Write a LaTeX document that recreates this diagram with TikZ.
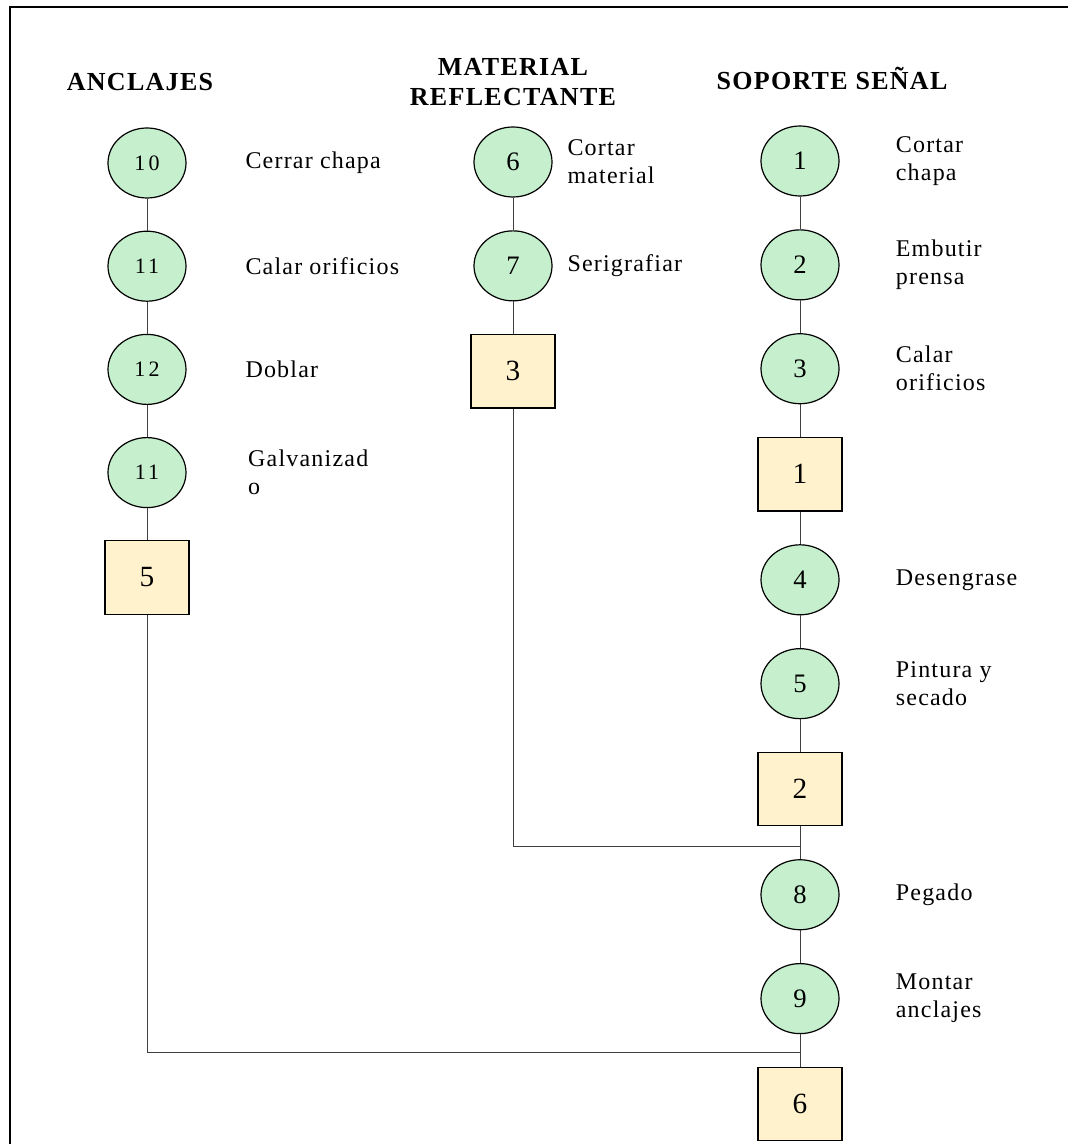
\documentclass[tikz,border=0pt]{standalone}
\usepackage{fontspec}
\setmainfont{Liberation Serif}
\newfontfamily\spacedfont[LetterSpace=5]{Liberation Serif}
\newfontfamily\widefont[LetterSpace=15]{Liberation Serif}
\usetikzlibrary{positioning,shapes.geometric,calc}
\definecolor{opgreen}{RGB}{198,239,206}
\definecolor{stockyellow}{RGB}{255,242,204}

\begin{document}
\begin{tikzpicture}[x=0.75pt, y=-0.75pt,
  op/.style={ellipse, draw=black, line width=0.9pt, fill=opgreen, inner sep=0pt,
             minimum width=58.5pt, minimum height=52.5pt, font=\fontsize{20}{24}\selectfont},
  opsmall/.style={op, font=\widefont\fontsize{16.5}{19}\selectfont},
  store/.style={rectangle, draw=black, line width=0.9pt, fill=stockyellow, inner sep=0pt,
                minimum width=63pt, minimum height=55pt, font=\fontsize{22}{26}\selectfont},
  lbl/.style={anchor=west, align=left, inner sep=0pt, font=\spacedfont\fontsize{18}{21}\selectfont},
  head/.style={align=center, inner sep=0pt, font=\spacedfont\bfseries\fontsize{19.5}{22.5}\selectfont},
  link/.style={draw=black!75, line width=0.75pt}]
\useasboundingbox (0,0) rectangle (1068,1144);
\draw[line width=1.5pt] (10,1144) -- (10,7) -- (1068,7);
% column heads
\node[head] (hanc) at (140,82) {ANCLAJES};
\node[head] (hmat) at (513,82) {MATERIAL\\REFLECTANTE};
\node[head] (hsop) at (832,78) {SOPORTE SEÑAL};
% anclajes
\node[opsmall] (a10) at (147,163) {10};
\node[opsmall, below=24pt of a10] (a11) {11};
\node[opsmall, below=24pt of a11] (a12) {12};
\node[opsmall, below=24pt of a12] (a11b) {11};
\node[store, below=24pt of a11b] (a5) {5};
\node[lbl, right=44pt of a10] (la10) {Cerrar chapa};
\node[lbl, right=44pt of a11] (la11) {Calar orificios};
\node[lbl, right=44pt of a12] (la12) {Doblar};
\node[lbl, right=46pt of a11b] (la11b) {Galvanizad\\o};
% material reflectante
\node[op] (m6) at (513,162) {6};
\node[op, below=24.5pt of m6] (m7) {7};
\node[store, below=24.5pt of m7] (m3) {3};
\node[lbl, right=11pt of m6] (lm6) {Cortar\\material};
\node[lbl, right=11pt of m7] (lm7) {Serigrafiar};
% soporte senal
\node[op] (s1) at (800,161) {1};
\node[op, below=24.5pt of s1] (s2) {2};
\node[op, below=24.5pt of s2] (s3) {3};
\node[store, below=24.5pt of s3] (s1b) {1};
\node[op, below=24.5pt of s1b] (s4) {4};
\node[op, below=24.5pt of s4] (s5) {5};
\node[store, below=24.5pt of s5] (s2b) {2};
\node[op, below=24.5pt of s2b] (s8) {8};
\node[op, below=24.5pt of s8] (s9) {9};
\node[store, below=24.5pt of s9] (s6) {6};
\node[lbl, right=42pt of s1] (ls1) {Cortar\\chapa};
\node[lbl, right=42pt of s2] (ls2) {Embutir\\prensa};
\node[lbl, right=42pt of s3] (ls3) {Calar\\orificios};
\node[lbl, right=42pt of s4] (ls4) {Desengrase};
\node[lbl, right=42pt of s5] (ls5) {Pintura y\\secado};
\node[lbl, right=42pt of s8] (ls8) {Pegado};
\node[lbl, right=42pt of s9] (ls9) {Montar\\anclajes};
% links
\draw[link] (a10) -- (a11);
\draw[link] (a11) -- (a12);
\draw[link] (a12) -- (a11b);
\draw[link] (a11b) -- (a5);
\draw[link] (m6) -- (m7);
\draw[link] (m7) -- (m3);
\draw[link] (s1) -- (s2);
\draw[link] (s2) -- (s3);
\draw[link] (s3) -- (s1b);
\draw[link] (s1b) -- (s4);
\draw[link] (s4) -- (s5);
\draw[link] (s5) -- (s2b);
\draw[link] (s2b) -- (s8);
\draw[link] (s8) -- (s9);
\draw[link] (s9) -- (s6);
\coordinate (jmat) at ($(s2b.south)!0.6!(s8.north)$);
\coordinate (janc) at ($(s9.south)!0.55!(s6.north)$);
\draw[link] (m3.south) |- (jmat) -- (s8.north);
\draw[link] (a5.south) |- (janc) -- (s6.north);
\end{tikzpicture}
\end{document}
